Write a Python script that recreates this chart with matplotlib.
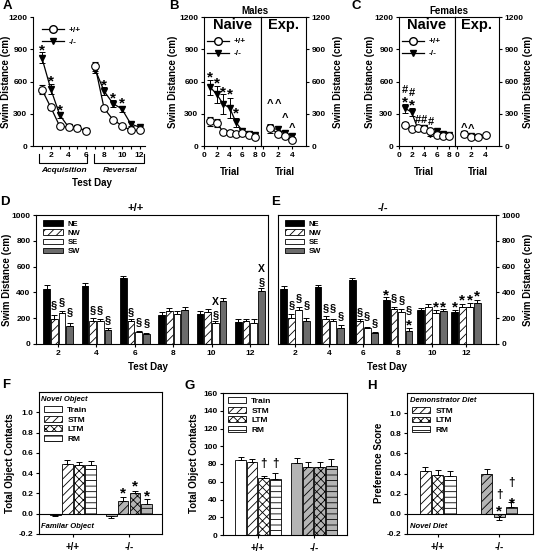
import matplotlib
matplotlib.use('Agg')
import matplotlib.pyplot as plt
import numpy as np
from matplotlib.patches import Patch
from matplotlib.lines import Line2D
import matplotlib.transforms as mtransforms

plt.rcParams['font.family'] = ['Liberation Sans', 'DejaVu Sans']
plt.rcParams['font.weight'] = 'bold'
plt.rcParams['hatch.linewidth'] = 0.6
plt.rcParams['axes.linewidth'] = 0.8

# ---------------- data ----------------
# Panel A
days_A = np.arange(1, 13)
wt_A = [525, 360, 185, 175, 170, 140, 740, 350, 245, 190, 145, 145]
wt_A_err = [40, 25, 20, 15, 15, 15, 40, 25, 20, 15, 15, 15]
ko_A = [820, 530, 290, 175, 170, 140, 710, 510, 395, 345, 205, 175]
ko_A_err = [50, 45, 30, 15, 15, 15, 35, 35, 30, 30, 20, 15]
star_days_A = [1, 2, 3, 8, 9, 10]
star_y_A = [920, 630, 365, 600, 480, 430]

# Panel B (males)
trials_naive = np.arange(1, 9)
trials_exp = np.arange(1, 5)
wt_B_naive = [230, 215, 130, 125, 115, 120, 105, 80]
wt_B_naive_err = [40, 35, 20, 25, 15, 20, 15, 15]
ko_B_naive = [545, 480, 390, 355, 220, 140, 115, 100]
ko_B_naive_err = [70, 80, 95, 90, 40, 30, 20, 20]
wt_B_exp = [170, 115, 90, 60]
wt_B_exp_err = [20, 15, 15, 10]
ko_B_exp = [165, 155, 120, 95]
ko_B_exp_err = [40, 35, 25, 15]
star_y_B = [670, 620, 535, 512, 335]
caret_y_B = [420, 420, 290, 195]

# Panel C (females)
wt_C_naive = [200, 160, 165, 160, 140, 100, 95, 95]
wt_C_naive_err = [25, 15, 15, 15, 15, 10, 10, 10]
ko_C_naive = [350, 315, 160, 165, 115, 140, 115, 100]
ko_C_naive_err = [40, 40, 25, 25, 25, 20, 15, 15]
wt_C_exp = [110, 85, 85, 100]
wt_C_exp_err = [15, 10, 10, 10]
ko_C_exp = [115, 95, 85, 95]
ko_C_exp_err = [15, 15, 10, 10]
hash_C = [(1, 533), (2, 502), (3, 254), (4, 254), (5, 233)]
star_C = [(1, 440), (2, 409)]
caret_C = [(1, 195), (2, 190)]

# Panels D / E (quadrant swim distance)
days_DE = np.array([2, 4, 6, 8, 10, 12])
quadrants = ['NE', 'NW', 'SE', 'SW']
D_vals = [[430, 450, 510, 225, 235, 170],
          [195, 180, 175, 255, 245, 175],
          [240, 175, 95, 235, 160, 165],
          [140, 105, 75, 260, 330, 410]]
D_err = [[30, 20, 20, 20, 20, 20],
         [30, 20, 15, 25, 25, 15],
         [15, 20, 5, 20, 20, 30],
         [20, 20, 10, 30, 25, 25]]
E_vals = [[425, 445, 500, 340, 260, 245],
          [205, 190, 180, 270, 290, 285],
          [265, 180, 125, 250, 240, 290],
          [175, 125, 85, 100, 255, 315]]
E_err = [[25, 15, 10, 25, 20, 20],
         [25, 25, 10, 20, 20, 25],
         [20, 15, 5, 20, 25, 25],
         [25, 20, 5, 25, 20, 25]]
# annotations: (day, quadrant index, symbol, y)
D_marks = [(2, 1, '§', 302), (2, 2, '§', 328), (2, 3, '§', 250),
           (4, 1, '§', 263), (4, 2, '§', 263), (4, 3, '§', 186),
           (6, 1, '§', 250), (6, 2, '§', 173), (6, 3, '§', 160),
           (10, 2, '§', 225), (10, 2, 'X', 328),
           (12, 3, '§', 483), (12, 3, 'X', 587)]
E_marks = [(2, 1, '§', 302), (2, 2, '§', 354), (2, 3, '§', 302),
           (4, 1, '§', 276), (4, 2, '§', 276), (4, 3, '§', 212),
           (6, 1, '§', 250), (6, 2, '§', 212), (6, 3, '§', 160),
           (8, 0, '*', 405), (8, 1, '§', 354), (8, 2, '§', 341),
           (8, 3, '§', 263), (8, 3, '*', 173),
           (10, 2, '*', 315), (10, 3, '*', 315),
           (12, 0, '*', 315), (12, 1, '*', 367), (12, 2, '*', 367), (12, 3, '*', 393)]

# Panels F/G/H
groups = ['+/+', '-/-']
tests4 = ['Train', 'STM', 'LTM', 'RM']
tests3 = ['STM', 'LTM', 'RM']
F_wt = [-0.01, 0.49, 0.48, 0.48]
F_wt_err = [0.015, 0.04, 0.03, 0.035]
F_ko = [-0.02, 0.13, 0.20, 0.10]
F_ko_err = [0.025, 0.03, 0.02, 0.045]
F_marks = [(1, 1, '*', 0.24), (1, 2, '*', 0.30), (1, 3, '*', 0.21)]
G_wt = [85, 82, 64, 63]
G_wt_err = [3, 4, 3, 7]
G_ko = [81, 77, 77, 78]
G_ko_err = [6, 5, 5, 8]
G_marks = [(0, 2, '†', 81), (0, 3, '†', 81)]
H_wt = [0.43, 0.39, 0.38]
H_wt_err = [0.04, 0.045, 0.05]
H_ko = [0.40, -0.03, 0.07]
H_ko_err = [0.05, 0.035, 0.05]
H_marks = [(1, 1, '*', 0.06), (1, 1, '†', 0.19), (1, 2, '*', 0.14), (1, 2, '†', 0.31)]

# ---------------- helpers ----------------
W, H = 536, 552
fig = plt.figure(figsize=(W / 100, H / 100), dpi=100)
LAB = 7


def rect(x0, y0, x1, y1):
    return [x0 / W, 1 - y1 / H, (x1 - x0) / W, (y1 - y0) / H]


def ftext(x, y, s, size=LAB, rot=0, style='normal', ha='center', va='center'):
    fig.text(x / W, 1 - y / H, s, fontsize=size, rotation=rot, fontstyle=style,
             fontweight='bold', ha=ha, va=va)


CEN = {'*': 0.50, '§': 0.26, '#': 0.36, '^': 0.55, 'X': 0.36, '†': 0.30}
SZ = {'*': 11, '§': 8, '#': 8, '^': 8, 'X': 7.5, '†': 8.5}


def sym(ax, x, y, s, size=None):
    size = size or SZ[s]
    ax.annotate(s, (x, y), xytext=(0, -CEN[s] * size), textcoords='offset points',
                ha='center', va='baseline', fontsize=size, fontweight='bold',
                annotation_clip=False)


def style_ticks(ax):
    ax.tick_params(direction='out', length=2.5, width=0.8, labelsize=6, pad=1.5)


def lines(ax, x, wt, wte, ko, koe):
    ax.errorbar(x, ko, yerr=koe, color='k', marker='v', ms=5, mfc='k', mec='k',
                lw=0.9, capsize=2, elinewidth=0.7, capthick=0.7, zorder=2)
    ax.errorbar(x, wt, yerr=wte, color='k', marker='o', ms=5.5, mfc='white', mec='k',
                mew=0.8, lw=0.9, capsize=2, elinewidth=0.7, capthick=0.7, zorder=3)


def line_legend(ax, loc_xy):
    h = [Line2D([], [], color='k', marker='o', mfc='white', mec='k', ms=5.5, lw=0.9),
         Line2D([], [], color='k', marker='v', mfc='k', mec='k', ms=5, lw=0.9)]
    ax.legend(h, ['+/+', '-/-'], loc='upper left', bbox_to_anchor=loc_xy, frameon=False,
              fontsize=6, handlelength=2.6, borderpad=0, labelspacing=0.5,
              handletextpad=0.6, borderaxespad=0)


# ---------------- Panel A ----------------
axA = fig.add_axes(rect(33, 17, 145, 146))
for seg in (slice(0, 6), slice(6, 12)):
    lines(axA, days_A[seg], np.array(wt_A)[seg], np.array(wt_A_err)[seg],
          np.array(ko_A)[seg], np.array(ko_A_err)[seg])
for d, y in zip(star_days_A, star_y_A):
    sym(axA, d, y, '*')
axA.set_xlim(0, 12.6)
axA.set_ylim(0, 1200)
axA.set_yticks([0, 300, 600, 900, 1200])
axA.set_xticks(days_A, minor=True)
axA.set_xticks([2, 4, 6, 8, 10, 12])
axA.tick_params(axis='x', which='minor', direction='out', length=2.5, width=0.8)
style_ticks(axA)
axA.spines['top'].set_visible(False)
axA.spines['right'].set_visible(False)
line_legend(axA, (0.08, 0.93))
trA = mtransforms.blended_transform_factory(axA.transData, axA.transAxes)
for x0, x1 in ((0.65, 6.1), (6.85, 12.5)):
    axA.plot([x0, x0, x1, x1], [-0.06, -0.13, -0.13, -0.06], color='k', lw=0.8,
             transform=trA, clip_on=False)
ftext(64, 171, 'Acquisition', size=6, style='italic')
ftext(120, 171, 'Reversal', size=6, style='italic')
ftext(92, 183, 'Test Day')
ftext(6, 82, 'Swim Distance (cm)', rot=90)
ftext(7, 6, 'A', size=9.5)


# ---------------- Panels B / C ----------------
def trial_panel(xl, xd, xr, data, letter, title, lx, rlabx, letx):
    (wtn, wtne, kon, kone, wte, wtee, koe, koee) = data
    axn = fig.add_axes(rect(xl, 17, xd, 146))
    axe = fig.add_axes(rect(xd, 17, xr, 146))
    lines(axn, trials_naive, wtn, wtne, kon, kone)
    lines(axe, trials_exp, wte, wtee, koe, koee)
    for ax in (axn, axe):
        ax.set_ylim(0, 1200)
        style_ticks(ax)
    axn.set_xlim(0, 8.9)
    axn.set_xticks([0, 2, 4, 6, 8])
    axn.set_yticks([0, 300, 600, 900, 1200])
    axe.set_xlim(-0.3, 5.9)
    axe.set_xticks([0, 2, 4])
    axe.set_yticks([0, 300, 600, 900, 1200])
    axe.yaxis.tick_right()
    axe.tick_params(axis='y', left=False)
    axn.text(0.5, 0.935, 'Naive', transform=axn.transAxes, ha='center', va='center',
             fontsize=10.5, fontweight='bold')
    axe.text(0.5, 0.935, 'Exp.', transform=axe.transAxes, ha='center', va='center',
             fontsize=10.5, fontweight='bold')
    line_legend(axn, (0.06, 0.84))
    ftext((xl + xd) / 2 - 3, 172, 'Trial')
    ftext((xd + xr) / 2 + 1, 172, 'Trial')
    ftext((xl + xr) / 2, 11, title, size=7)
    ftext(lx, 82, 'Swim Distance (cm)', rot=90)
    ftext(rlabx, 82, 'Swim Distance (cm)', rot=90)
    ftext(letx, 6, letter, size=9.5)
    return axn, axe


axBn, axBe = trial_panel(204, 261, 306,
                         (wt_B_naive, wt_B_naive_err, ko_B_naive, ko_B_naive_err,
                          wt_B_exp, wt_B_exp_err, ko_B_exp, ko_B_exp_err),
                         'B', 'Males', 173, 338, 174)
for t, y in zip(range(1, 6), star_y_B):
    sym(axBn, t, y, '*')
for t, y in zip(range(1, 5), caret_y_B):
    sym(axBe, t, y, '^')

axCn, axCe = trial_panel(399, 455, 499,
                         (wt_C_naive, wt_C_naive_err, ko_C_naive, ko_C_naive_err,
                          wt_C_exp, wt_C_exp_err, ko_C_exp, ko_C_exp_err),
                         'C', 'Females', 370, 528, 356)
for t, y in hash_C:
    sym(axCn, t, y, '#')
for t, y in star_C:
    sym(axCn, t, y, '*')
for t, y in caret_C:
    sym(axCe, t, y, '^')

# ---------------- Panels D / E ----------------
q_colors = ['black', 'white', 'white', '#6c6c6c']
q_hatch = [None, '////', None, None]


def quad_panel(box, vals, errs, marks, xlim, pitch, width, right):
    ax = fig.add_axes(rect(*box))
    offs = (np.arange(4) - 1.5) * pitch
    for i in range(4):
        ax.bar(days_DE + offs[i], vals[i], width=width, color=q_colors[i],
               edgecolor='black', linewidth=0.6, hatch=q_hatch[i], label=quadrants[i],
               yerr=[np.zeros(6), errs[i]], capsize=2,
               error_kw=dict(elinewidth=0.7, capthick=0.7, ecolor='black'))
    for d, qi, s, y in marks:
        sym(ax, d + offs[qi], y, s)
    ax.set_xlim(*xlim)
    ax.set_ylim(0, 1000)
    ax.set_xticks(days_DE)
    ax.set_yticks(np.arange(0, 1001, 200))
    style_ticks(ax)
    if right:
        ax.yaxis.tick_right()
        ax.tick_params(axis='y', left=False)
    ax.legend(loc='upper left', bbox_to_anchor=(0.03, 0.96), frameon=False, fontsize=5.5,
              handlelength=2.6, handleheight=0.7, labelspacing=0.25, borderpad=0,
              handletextpad=0.6, borderaxespad=0)
    return ax


axD = quad_panel((36, 215, 268, 344), D_vals, D_err, D_marks, (0.85, 12.94), 0.40, 0.35, False)
axE = quad_panel((278, 215, 496, 344), E_vals, E_err, E_marks, (1.0, 13.75), 0.44, 0.40, True)
ftext(136, 208, '+/+', size=8)
ftext(383, 208, '-/-', size=8)
ftext(148, 367, 'Test Day')
ftext(387, 367, 'Test Day')
ftext(7, 280, 'Swim Distance (cm)', rot=90)
ftext(528, 280, 'Swim Distance (cm)', rot=90)
ftext(5, 202, 'D', size=9.5)
ftext(276, 202, 'E', size=9.5)

# ---------------- Panels F / G / H ----------------
hatch_map = {'Train': None, 'STM': '////', 'LTM': 'xxxx', 'RM': '---'}
grp_colors = ['white', '#b4b4b4']


def test_panel(box, tests, wt, wte, ko, koe, marks, ylim, yticks, fmt, pitch, width, xlim,
               top_text=None, bot_text=None, zero_line=False, leg_y=0.93):
    ax = fig.add_axes(rect(*box))
    n = len(tests)
    offs = (np.arange(n) - (n - 1) / 2) * pitch
    for g, (vals, errs) in enumerate(((wt, wte), (ko, koe))):
        for i, t in enumerate(tests):
            v = vals[i]
            e = errs[i]
            yerr = [[0], [e]] if v >= 0 else [[e], [0]]
            ax.bar(g + 1 + offs[i], v, width=width, color=grp_colors[g], edgecolor='black',
                   linewidth=0.6, hatch=hatch_map[t], yerr=yerr, capsize=2,
                   error_kw=dict(elinewidth=0.7, capthick=0.7, ecolor='black'))
    for g, i, s, y in marks:
        sym(ax, g + 1 + offs[i], y, s)
    if zero_line:
        ax.axhline(0, color='black', lw=0.8)
    ax.set_xlim(*xlim)
    ax.set_ylim(*ylim)
    ax.set_yticks(yticks)
    ax.set_yticklabels([fmt.format(v) for v in yticks])
    ax.set_xticks([1, 2])
    ax.set_xticklabels(groups)
    style_ticks(ax)
    ax.tick_params(axis='x', labelsize=7, pad=3)
    handles = [Patch(facecolor='white', edgecolor='black', linewidth=0.6, hatch=hatch_map[t])
               for t in tests]
    ax.legend(handles, tests, loc='upper left', bbox_to_anchor=(0.04, leg_y), frameon=False,
              fontsize=6, handlelength=2.2, handleheight=0.7, labelspacing=0.2, borderpad=0,
              handletextpad=0.6, borderaxespad=0)
    if top_text:
        ax.text(0.02, 0.975, top_text, transform=ax.transAxes, ha='left', va='top',
                fontsize=5.5, fontstyle='italic', fontweight='bold')
    if bot_text:
        ax.text(0.02, 0.025, bot_text, transform=ax.transAxes, ha='left', va='bottom',
                fontsize=5.5, fontstyle='italic', fontweight='bold')
    return ax


test_panel((39, 392, 162, 534), tests4, F_wt, F_wt_err, F_ko, F_ko_err, F_marks,
           (-0.2, 1.2), np.round(np.arange(-0.2, 1.01, 0.2), 1), '{:.1f}', 0.21, 0.19,
           (0.39, 2.59), top_text='Novel Object', bot_text='Familar Object', zero_line=True,
           leg_y=0.9)
test_panel((223, 393, 347, 535), tests4, G_wt, G_wt_err, G_ko, G_ko_err, G_marks,
           (0, 160), np.arange(0, 161, 20), '{:d}', 0.208, 0.19, (0.375, 2.59), leg_y=0.97)
test_panel((407, 393, 533, 534), tests3, H_wt, H_wt_err, H_ko, H_ko_err, H_marks,
           (-0.2, 1.2), np.round(np.arange(-0.2, 1.01, 0.2), 1), '{:.1f}', 0.2, 0.18,
           (0.5, 2.55), top_text='Demonstrator Diet', bot_text='Novel Diet', zero_line=True,
           leg_y=0.9)
ftext(10, 463, 'Total Object Contacts', rot=90)
ftext(194, 463, 'Total Object Contacts', rot=90)
ftext(379, 463, 'Preference Score', rot=90)
ftext(6, 385, 'F', size=9.5)
ftext(190, 386, 'G', size=9.5)
ftext(372, 386, 'H', size=9.5)

fig.savefig('out.png', dpi=100)
